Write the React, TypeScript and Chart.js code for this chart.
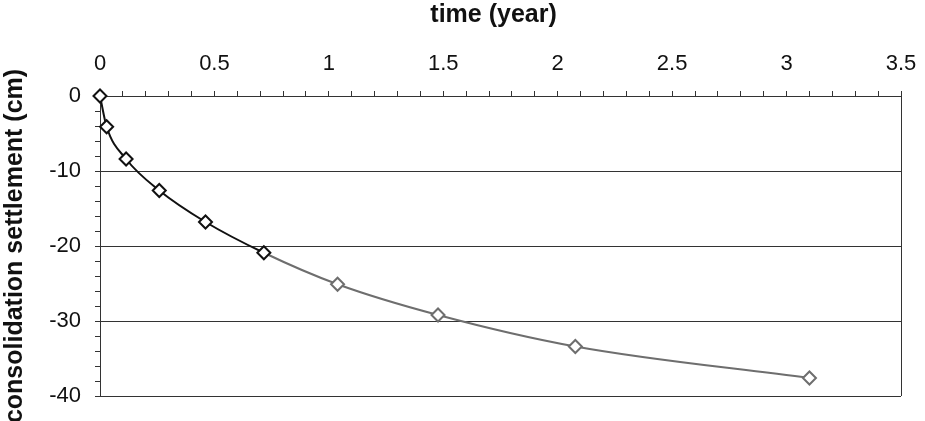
import React, { useEffect, useRef } from 'react';
import { Chart, registerables } from 'chart.js';

Chart.register(...registerables);

const timeYears = [0, 0.029, 0.114, 0.259, 0.461, 0.716, 1.038, 1.477, 2.077, 3.1];
const settlementCm = [0, -4.1, -8.4, -12.6, -16.8, -20.9, -25.1, -29.2, -33.4, -37.6];
const xTickValues = [0, 0.1, 0.2, 0.3, 0.4, 0.5, 0.6, 0.7, 0.8, 0.9, 1, 1.1, 1.2, 1.3, 1.4, 1.5, 1.6, 1.7, 1.8, 1.9, 2, 2.1, 2.2, 2.3, 2.4, 2.5, 2.6, 2.7, 2.8, 2.9, 3, 3.1, 3.2, 3.3, 3.4, 3.5];
const xTickLabels = ['0', '0.5', '1', '1.5', '2', '2.5', '3', '3.5'];
const yTickValues = [-40, -38, -36, -34, -32, -30, -28, -26, -24, -22, -20, -18, -16, -14, -12, -10, -8, -6, -4, -2, 0];
const yTickLabels = ['0', '-10', '-20', '-30', '-40'];

const FONT = '"Liberation Sans", Arial, sans-serif';
const AXIS = '#333333';

function labelFor(list: string[], v: number): string {
  const hit = list.find((l) => Math.abs(parseFloat(l) - v) < 1e-6);
  return hit === undefined ? '' : hit;
}

export default function App() {
  const ref = useRef<HTMLCanvasElement | null>(null);

  useEffect(() => {
    document.body.style.margin = '0';
    if (!ref.current) return;
    const chart = new Chart(ref.current, {
      type: 'line',
      data: {
        datasets: [
          {
            data: timeYears.map((t, i) => ({ x: t, y: settlementCm[i] })),
            borderWidth: 2,
            borderColor: '#111',
            segment: {
              borderColor: (ctx: any) => (ctx.p0DataIndex >= 5 ? '#6e6e6e' : '#111'),
            },
            cubicInterpolationMode: 'monotone',
            pointStyle: 'rectRot',
            pointRadius: 6.5,
            pointBorderWidth: 2,
            pointBackgroundColor: '#fff',
            pointBorderColor: timeYears.map((_, i) => (i <= 5 ? '#111' : '#6e6e6e')),
            clip: false as any,
          },
        ],
      },
      options: {
        responsive: false,
        animation: false,
        layout: { padding: { left: 0, top: 0, right: 24, bottom: 25 } },
        plugins: { legend: { display: false }, tooltip: { enabled: false } },
        scales: {
          x: {
            type: 'linear',
            position: 'top',
            min: 0,
            max: 3.5,
            afterBuildTicks: (axis: any) => {
              axis.ticks = xTickValues.map((v) => ({ value: v }));
            },
            afterFit: (axis: any) => {
              axis.height = 96;
              axis.paddingLeft = 0;
              axis.paddingRight = 0;
            },
            ticks: {
              autoSkip: false,
              maxRotation: 0,
              padding: 14,
              color: '#111',
              font: { family: FONT, size: 22 },
              callback: (v: any) => labelFor(xTickLabels, Number(v)),
            },
            grid: {
              color: (ctx: any) => (ctx.tick && Math.abs(ctx.tick.value - 3.5) < 1e-6 ? AXIS : 'rgba(0,0,0,0)'),
              tickColor: AXIS,
              tickLength: 5,
              lineWidth: 1,
            },
            border: { color: AXIS, width: 1 },
            title: {
              display: true,
              text: 'time (year)  ',
              color: '#111',
              padding: { top: 0, bottom: 0 },
              font: { family: FONT, size: 25, weight: 'bold' },
            },
          },
          y: {
            type: 'linear',
            min: -40,
            max: 0,
            afterBuildTicks: (axis: any) => {
              axis.ticks = yTickValues.map((v) => ({ value: v }));
            },
            afterFit: (axis: any) => {
              axis.width = 100;
              axis.paddingTop = 0;
              axis.paddingBottom = 0;
            },
            ticks: {
              autoSkip: false,
              padding: 14,
              color: '#111',
              font: { family: FONT, size: 22 },
              callback: (v: any) => labelFor(yTickLabels, Number(v)),
            },
            grid: {
              color: (ctx: any) => (ctx.tick && ctx.tick.value % 10 === 0 ? AXIS : 'rgba(0,0,0,0)'),
              tickColor: AXIS,
              tickLength: 5,
              lineWidth: 1,
            },
            border: { color: AXIS, width: 1 },
            title: {
              display: true,
              text: 'consolidation settlement (cm)',
              color: '#111',
              padding: { top: 0, bottom: 0 },
              font: { family: FONT, size: 25, weight: 'bold' },
            },
          },
        },
      },
    } as any);
    return () => chart.destroy();
  }, []);

  return (
    <div style={{ position: 'absolute', left: 0, top: 0, width: 925, height: 421, background: '#fff' }}>
      <canvas ref={ref} width={925} height={421} />
    </div>
  );
}
